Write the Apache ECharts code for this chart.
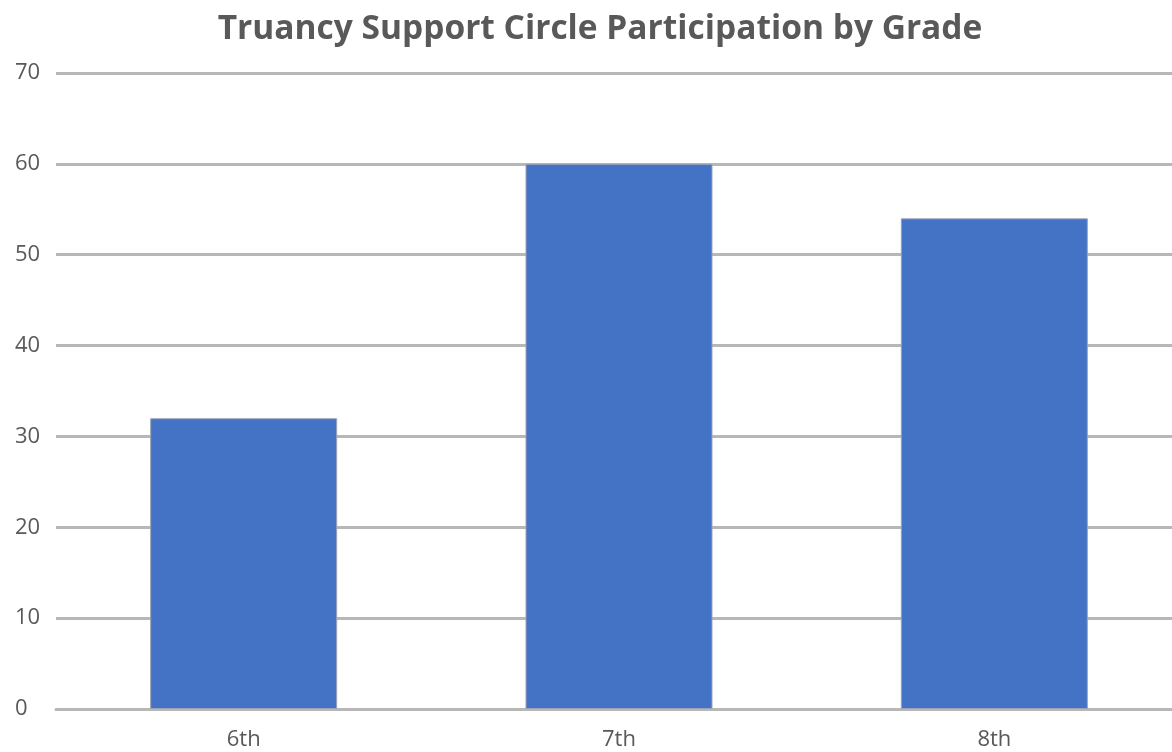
<!DOCTYPE html>
<html>
<head>
<meta charset="utf-8">
<script src="https://cdn.jsdelivr.net/npm/echarts@6/dist/echarts.min.js"></script>
<style>html,body{margin:0;padding:0;background:#fff}#c{width:1172px;height:752px}</style>
</head>
<body>
<div id="c"></div>
<script>
const grades = ['6th', '7th', '8th'];
const participation = [32, 60, 54];
const chartTitle = 'Truancy Support Circle Participation by Grade';

const chart = echarts.init(document.getElementById('c'), null, {renderer: 'canvas'});
chart.setOption({
  animation: false,
  backgroundColor: '#ffffff',
  title: {
    text: chartTitle,
    left: 595,
    textAlign: 'center',
    top: 7,
    textStyle: {fontFamily: 'Open Sans', fontSize: 33.5, fontWeight: 'bold', color: '#595959'}
  },
  grid: {left: 56, width: 1126, top: 73, bottom: 43, containLabel: false, outerBoundsMode: 'none'},
  xAxis: {
    type: 'category',
    data: grades,
    axisLine: {show: true, lineStyle: {color: '#b7b7b7', width: 3}},
    axisTick: {show: false},
    axisLabel: {color: '#595959', fontFamily: 'Open Sans', fontSize: 22, margin: 20}
  },
  yAxis: {
    type: 'value',
    min: 0, max: 70, interval: 10,
    axisLine: {show: false},
    axisTick: {show: false},
    axisLabel: {color: '#595959', fontFamily: 'Open Sans', fontSize: 22, margin: 41, align: 'left'},
    splitLine: {lineStyle: {color: '#b7b7b7', width: 3}}
  },
  series: [{
    type: 'bar',
    data: participation,
    barWidth: 187,
    itemStyle: {color: '#4472c4', borderColor: '#9aa3b5', borderWidth: 1}
  }]
});
</script>
</body>
</html>
